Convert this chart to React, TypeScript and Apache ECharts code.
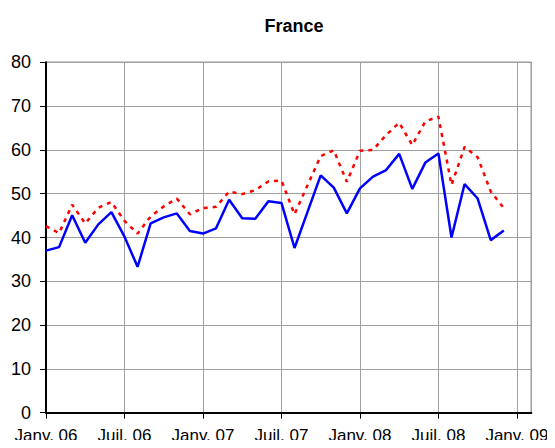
import React, { useEffect, useRef } from "react";
import * as echarts from "echarts";

const titleText = "France";
// month index 0 = Janv. 06 ... 35 = Déc. 08
const months = Array.from({ length: 36 }, (_, i) => i);
const blueValues = [
  37.0, 37.8, 45.1, 38.8, 43.0, 45.8, 40.2, 33.3, 43.2, 44.6, 45.5, 41.5,
  40.9, 42.1, 48.6, 44.4, 44.3, 48.3, 47.9, 37.6, 45.9, 54.2, 51.4, 45.5,
  51.2, 53.9, 55.4, 59.1, 51.1, 57.1, 59.2, 40.0, 52.2, 48.9, 39.4, 41.6,
];
const redValues = [
  42.6, 41.0, 47.5, 43.2, 46.8, 48.1, 43.8, 40.9, 44.8, 47.1, 48.9, 45.3,
  46.7, 47.0, 50.5, 49.9, 50.8, 52.8, 53.0, 45.3, 52.0, 58.6, 59.9, 52.7,
  59.8, 60.0, 63.4, 66.2, 61.1, 66.5, 67.6, 52.0, 60.7, 58.3, 50.5, 46.7,
];
const xTickLabels = [
  "Janv. 06",
  "Juil. 06",
  "Janv. 07",
  "Juil. 07",
  "Janv. 08",
  "Juil. 08",
  "Janv. 09",
];

export default function App() {
  const ref = useRef<HTMLDivElement>(null);
  useEffect(() => {
    if (!ref.current) return;
    const chart = echarts.init(ref.current, null, { renderer: "svg" });
    const font = "'Liberation Sans', Arial, sans-serif";
    chart.setOption({
      animation: false,
      backgroundColor: "#ffffff",
      textStyle: { fontFamily: font },
      title: {
        text: titleText,
        left: 289,
        top: 12,
        textAlign: "center",
        textStyle: {
          fontFamily: font,
          fontSize: 18,
          fontWeight: "bold",
          color: "#000",
        },
      },
      grid: {
        left: 46,
        top: 62.3,
        right: 23.7,
        bottom: 35.3,
        show: true,
        borderColor: "#000",
        borderWidth: 1,
        backgroundColor: "transparent",
      },
      xAxis: {
        type: "value",
        min: 0,
        max: 37.1,
        interval: 6,
        axisLine: { show: true, onZero: false, lineStyle: { color: "#000", width: 2 } },
        axisTick: { show: true, length: 6, lineStyle: { color: "#000", width: 1 } },
        axisLabel: {
          margin: 14,
          fontSize: 17,
          color: "#000",
          fontFamily: font,
          showMaxLabel: false,
          formatter: (v: number) => {
            if (Math.abs(v / 6 - Math.round(v / 6)) > 1e-6) return "";
            return xTickLabels[Math.round(v / 6)] ?? "";
          },
        },
        splitLine: { show: true, lineStyle: { color: "#a0a0a0", width: 1 } },
      },
      yAxis: {
        type: "value",
        min: 0,
        max: 80,
        interval: 10,
        axisLine: { show: true, lineStyle: { color: "#000", width: 2 } },
        axisTick: { show: true, length: 6, lineStyle: { color: "#000", width: 1 } },
        axisLabel: {
          margin: 15,
          fontSize: 18,
          color: "#000",
          fontFamily: font,
        },
        splitLine: { show: true, lineStyle: { color: "#a0a0a0", width: 1 } },
      },
      series: [
        {
          type: "line",
          name: "red",
          data: months.map((m, i) => [m, redValues[i]]),
          showSymbol: false,
          symbol: "none",
          lineStyle: { color: "#ff0000", width: 2.5, type: [4, 5] },
          z: 3,
        },
        {
          type: "line",
          name: "blue",
          data: months.map((m, i) => [m, blueValues[i]]),
          showSymbol: false,
          symbol: "none",
          lineStyle: { color: "#0000ff", width: 2.5, type: "solid" },
          z: 4,
        },
      ],
    });
    return () => chart.dispose();
  }, []);
  return <div ref={ref} style={{ width: 555, height: 448, margin: -8 }} />;
}
